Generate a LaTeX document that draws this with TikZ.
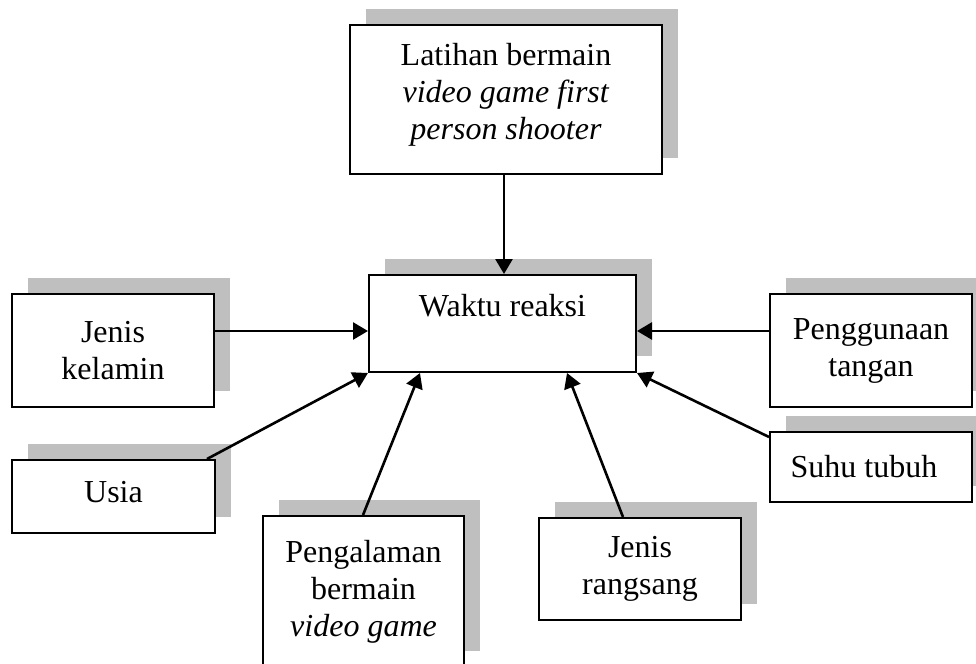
\documentclass[tikz,border=0pt]{standalone}
\usepackage{fontspec}
\setmainfont{Liberation Serif}
\usetikzlibrary{shadows,arrows.meta}
\definecolor{shgray}{RGB}{191,191,191}
\tikzset{
  box/.style={draw=black, line width=1pt, fill=white, inner sep=0pt, align=center,
    font=\fontsize{16}{18.5}\selectfont,
    drop shadow={shadow xshift=8pt, shadow yshift=8pt, opacity=1, fill=shgray}},
  arr/.style={line width=1.3pt, -{Triangle[length=7.5pt,width=8.5pt]}}
}
\begin{document}
\begin{tikzpicture}[x=0.5pt,y=-0.5pt]
\useasboundingbox (0,0) rectangle (976,664);
\clip (0,0) rectangle (976,664);
\node[box, minimum width=156.25pt, minimum height=74.5pt, text depth=8.5pt] (lat) at (506,99.5)
  {Latihan bermain\\\textit{video game first}\\\textit{person shooter}};
\node[box, minimum width=133.5pt, minimum height=48.5pt] (wak) at (502.5,323.5)
  {Waktu reaksi\\\mbox{}};
\node[box, minimum width=101pt, minimum height=56.5pt] (jk) at (113,350.5)
  {Jenis\\kelamin};
\node[box, minimum width=101.5pt, minimum height=36.5pt, text depth=5pt] (usia) at (113.5,496.5)
  {Usia};
\node[box, minimum width=100.5pt, minimum height=75.5pt] (peng) at (363.5,591.5)
  {Pengalaman\\bermain\\\textit{video game}};
\node[box, minimum width=101pt, minimum height=56.5pt] (pt) at (871,350.5)
  {Penggunaan\\tangan};
\node[box, minimum width=101pt, minimum height=35pt] (suhu) at (871,467)
  {Suhu tubuh\hspace*{7pt}};
\node[box, minimum width=101pt, minimum height=51pt] (jr) at (640,569)
  {Jenis\\rangsang};

\draw[arr] (lat.south -| 504,0) -- (wak.north -| 504,0);
\draw[arr] (jk.east |- 0,331) -- (wak.west |- 0,331);
\draw[arr] (pt.west |- 0,331) -- (wak.east |- 0,331);
\draw[arr] (usia.north -| 207,0) -- (wak.south west);
\draw[arr] (peng.north -| 363,0) -- (wak.south -| 420,0);
\draw[arr] (jr.north -| 623,0) -- (wak.south -| 567,0);
\draw[arr] (suhu.west |- 0,437) -- (wak.south east);
\end{tikzpicture}
\end{document}
